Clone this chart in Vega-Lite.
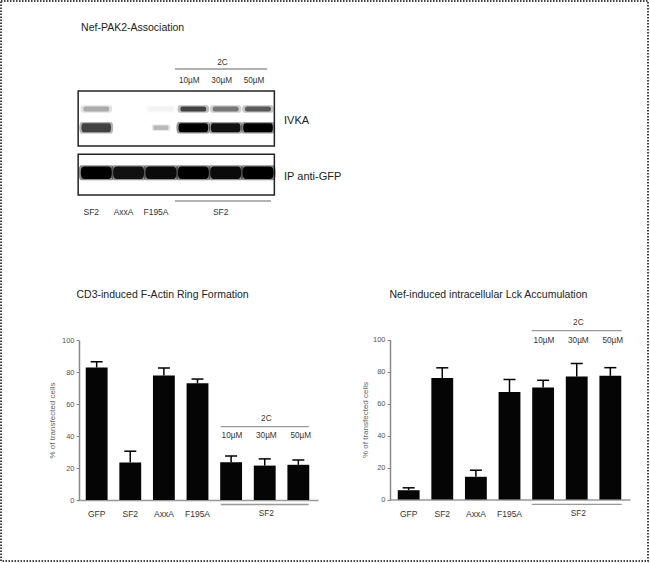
{
  "$schema": "https://vega.github.io/schema/vega-lite/v6.json",
  "width": 647,
  "height": 560,
  "autosize": "none",
  "padding": {"left": 1, "top": 1, "right": 2, "bottom": 2},
  "background": "white",
  "config": {
    "font": "Liberation Sans",
    "view": {"stroke": "#444", "strokeWidth": 2, "strokeDash": [1.5, 1.5]},
    "axis": {"grid": false}
  },
  "datasets": {
    "actin": [
      {"condition": "GFP", "mean": 82.8, "upper": 86.4},
      {"condition": "SF2", "mean": 23.5, "upper": 30.5},
      {"condition": "AxxA", "mean": 77.8, "upper": 82.5},
      {"condition": "F195A", "mean": 73.0, "upper": 75.6},
      {"condition": "10µM", "mean": 23.6, "upper": 27.5},
      {"condition": "30µM", "mean": 21.5, "upper": 25.7},
      {"condition": "50µM", "mean": 22.0, "upper": 25.0}
    ],
    "lck": [
      {"condition": "GFP", "mean": 5.8, "upper": 7.3},
      {"condition": "SF2", "mean": 76.0, "upper": 82.3},
      {"condition": "AxxA", "mean": 14.2, "upper": 18.3},
      {"condition": "F195A", "mean": 67.2, "upper": 75.0},
      {"condition": "10µM", "mean": 70.0, "upper": 74.5},
      {"condition": "30µM", "mean": 76.8, "upper": 85.0},
      {"condition": "50µM", "mean": 77.3, "upper": 82.4}
    ],
    "blot": [
      {"lane": 1, "sample": "SF2", "probe": "IVKA upper", "signal": 0.3},
      {"lane": 2, "sample": "AxxA", "probe": "IVKA upper", "signal": 0.0},
      {"lane": 3, "sample": "F195A", "probe": "IVKA upper", "signal": 0.04},
      {"lane": 4, "sample": "SF2 + 2C 10µM", "probe": "IVKA upper", "signal": 0.72},
      {"lane": 5, "sample": "SF2 + 2C 30µM", "probe": "IVKA upper", "signal": 0.5},
      {"lane": 6, "sample": "SF2 + 2C 50µM", "probe": "IVKA upper", "signal": 0.62},
      {"lane": 1, "sample": "SF2", "probe": "IVKA lower", "signal": 0.72},
      {"lane": 2, "sample": "AxxA", "probe": "IVKA lower", "signal": 0.0},
      {"lane": 3, "sample": "F195A", "probe": "IVKA lower", "signal": 0.25},
      {"lane": 4, "sample": "SF2 + 2C 10µM", "probe": "IVKA lower", "signal": 1.0},
      {"lane": 5, "sample": "SF2 + 2C 30µM", "probe": "IVKA lower", "signal": 0.95},
      {"lane": 6, "sample": "SF2 + 2C 50µM", "probe": "IVKA lower", "signal": 1.0},
      {"lane": 1, "sample": "SF2", "probe": "IP anti-GFP", "signal": 1.0},
      {"lane": 2, "sample": "AxxA", "probe": "IP anti-GFP", "signal": 0.95},
      {"lane": 3, "sample": "F195A", "probe": "IP anti-GFP", "signal": 0.97},
      {"lane": 4, "sample": "SF2 + 2C 10µM", "probe": "IP anti-GFP", "signal": 1.0},
      {"lane": 5, "sample": "SF2 + 2C 30µM", "probe": "IP anti-GFP", "signal": 0.97},
      {"lane": 6, "sample": "SF2 + 2C 50µM", "probe": "IP anti-GFP", "signal": 1.0}
    ]
  },
  "layer": [
    {
      "data": {"name": "actin"},
      "mark": {"type": "bar", "color": "#050505"},
      "encoding": {
        "x": {"field": "condition", "type": "nominal", "scale": {"domain": ["GFP", "SF2", "AxxA", "F195A", "10µM", "30µM", "50µM"], "range": [76, 317], "paddingInner": 0.35, "paddingOuter": 0.26},
          "axis": {"orient": "bottom", "offset": -61, "title": null, "ticks": false, "tickSize": 0, "domainColor": "#999", "domainWidth": 1.5, "labelFontSize": 8.5, "labelColor": "#333", "labelPadding": 9.5, "labelAngle": 0, "labelExpr": "(datum.label == '10µM' || datum.label == '30µM' || datum.label == '50µM') ? '' : datum.label"}},
        "y": {"field": "mean", "type": "quantitative", "scale": {"domain": [0, 100], "range": [499, 339], "nice": false, "zero": false},
          "axis": {"orient": "left", "offset": -78, "values": [0, 20, 40, 60, 80, 100], "title": "% of transfected cells", "titleFontSize": 8, "titleFontWeight": "normal", "titleColor": "#666", "titleX": -27, "titleBaseline": "middle", "labelFontSize": 7.5, "labelColor": "#555", "labelPadding": 2, "tickSize": 3, "tickColor": "#888", "domainColor": "#888", "domainWidth": 1.5}}
      }
    },
    {
      "data": {"name": "actin"},
      "mark": {"type": "rule", "color": "#000", "strokeWidth": 1.5},
      "encoding": {
        "x": {"field": "condition", "type": "nominal", "scale": {"domain": ["GFP", "SF2", "AxxA", "F195A", "10µM", "30µM", "50µM"], "range": [76, 317], "paddingInner": 0.35, "paddingOuter": 0.26}, "axis": null},
        "y": {"field": "mean", "type": "quantitative", "scale": {"domain": [0, 100], "range": [499, 339], "nice": false, "zero": false}, "axis": null},
        "y2": {"field": "upper"}
      }
    },
    {
      "data": {"name": "actin"},
      "mark": {"type": "tick", "color": "#000", "thickness": 1.5, "size": 12, "opacity": 1},
      "encoding": {
        "x": {"field": "condition", "type": "nominal", "scale": {"domain": ["GFP", "SF2", "AxxA", "F195A", "10µM", "30µM", "50µM"], "range": [76, 317], "paddingInner": 0.35, "paddingOuter": 0.26}, "axis": null},
        "y": {"field": "upper", "type": "quantitative", "scale": {"domain": [0, 100], "range": [499, 339], "nice": false, "zero": false}, "axis": null}
      }
    },
    {
      "data": {"name": "actin"},
      "transform": [{"filter": {"field": "condition", "oneOf": ["10µM", "30µM", "50µM"]}}],
      "mark": {"type": "text", "align": "center", "baseline": "middle", "fontSize": 8.2, "color": "#333"},
      "encoding": {
        "x": {"field": "condition", "type": "nominal", "scale": {"domain": ["GFP", "SF2", "AxxA", "F195A", "10µM", "30µM", "50µM"], "range": [76, 317], "paddingInner": 0.35, "paddingOuter": 0.26}, "axis": null},
        "y": {"datum": 39.8, "type": "quantitative", "scale": {"domain": [0, 100], "range": [499, 339], "nice": false, "zero": false}, "axis": null},
        "text": {"field": "condition"}
      }
    },
    {
      "data": {"values": [{"label": "2C", "level": 50.8}, {"label": "SF2", "level": -8.6}]},
      "mark": {"type": "text", "align": "center", "baseline": "middle", "fontSize": 8.3, "color": "#333"},
      "encoding": {
        "x": {"datum": "30µM", "type": "nominal", "scale": {"domain": ["GFP", "SF2", "AxxA", "F195A", "10µM", "30µM", "50µM"], "range": [76, 317], "paddingInner": 0.35, "paddingOuter": 0.26}, "axis": null},
        "y": {"field": "level", "type": "quantitative", "scale": {"domain": [0, 100], "range": [499, 339], "nice": false, "zero": false}, "axis": null},
        "text": {"field": "label"}
      }
    },
    {
      "data": {"values": [{"bracket": "2C", "level": 45.8}, {"bracket": "SF2", "level": -2.8}]},
      "mark": {"type": "tick", "color": "#999", "thickness": 1.3, "size": 88, "opacity": 1},
      "encoding": {
        "x": {"datum": "30µM", "type": "nominal", "scale": {"domain": ["GFP", "SF2", "AxxA", "F195A", "10µM", "30µM", "50µM"], "range": [76, 317], "paddingInner": 0.35, "paddingOuter": 0.26}, "axis": null},
        "y": {"field": "level", "type": "quantitative", "scale": {"domain": [0, 100], "range": [499, 339], "nice": false, "zero": false}, "axis": null}
      }
    },
    {
      "data": {"values": [{"label": "CD3-induced F-Actin Ring Formation"}]},
      "mark": {"type": "text", "align": "left", "baseline": "middle", "fontSize": 10.5, "color": "#222", "dx": -17.7},
      "encoding": {
        "x": {"datum": "GFP", "type": "nominal", "scale": {"domain": ["GFP", "SF2", "AxxA", "F195A", "10µM", "30µM", "50µM"], "range": [76, 317], "paddingInner": 0.35, "paddingOuter": 0.26}, "axis": null},
        "y": {"datum": 128, "type": "quantitative", "scale": {"domain": [0, 100], "range": [499, 339], "nice": false, "zero": false}, "axis": null},
        "text": {"field": "label"}
      }
    },
    {
      "data": {"name": "lck"},
      "mark": {"type": "bar", "color": "#050505"},
      "encoding": {
        "x": {"field": "condition", "type": "nominal", "scale": {"domain": ["GFP", "SF2", "AxxA", "F195A", "10µM", "30µM", "50µM"], "range": [388, 629], "paddingInner": 0.35, "paddingOuter": 0.26},
          "axis": {"orient": "bottom", "offset": -61.5, "title": null, "ticks": false, "tickSize": 0, "domainColor": "#999", "domainWidth": 1.5, "labelFontSize": 8.5, "labelColor": "#333", "labelPadding": 9.5, "labelAngle": 0, "labelExpr": "(datum.label == '10µM' || datum.label == '30µM' || datum.label == '50µM') ? '' : datum.label"}},
        "y": {"field": "mean", "type": "quantitative", "scale": {"domain": [0, 100], "range": [498.5, 338.5], "nice": false, "zero": false},
          "axis": {"orient": "left", "offset": -389, "values": [0, 20, 40, 60, 80, 100], "title": "% of transfected cells", "titleFontSize": 8, "titleFontWeight": "normal", "titleColor": "#666", "titleX": -25, "titleBaseline": "middle", "labelFontSize": 7.5, "labelColor": "#555", "labelPadding": 2, "tickSize": 3, "tickColor": "#888", "domainColor": "#888", "domainWidth": 1.5}}
      }
    },
    {
      "data": {"name": "lck"},
      "mark": {"type": "rule", "color": "#000", "strokeWidth": 1.5},
      "encoding": {
        "x": {"field": "condition", "type": "nominal", "scale": {"domain": ["GFP", "SF2", "AxxA", "F195A", "10µM", "30µM", "50µM"], "range": [388, 629], "paddingInner": 0.35, "paddingOuter": 0.26}, "axis": null},
        "y": {"field": "mean", "type": "quantitative", "scale": {"domain": [0, 100], "range": [498.5, 338.5], "nice": false, "zero": false}, "axis": null},
        "y2": {"field": "upper"}
      }
    },
    {
      "data": {"name": "lck"},
      "mark": {"type": "tick", "color": "#000", "thickness": 1.5, "size": 12, "opacity": 1},
      "encoding": {
        "x": {"field": "condition", "type": "nominal", "scale": {"domain": ["GFP", "SF2", "AxxA", "F195A", "10µM", "30µM", "50µM"], "range": [388, 629], "paddingInner": 0.35, "paddingOuter": 0.26}, "axis": null},
        "y": {"field": "upper", "type": "quantitative", "scale": {"domain": [0, 100], "range": [498.5, 338.5], "nice": false, "zero": false}, "axis": null}
      }
    },
    {
      "data": {"name": "lck"},
      "transform": [{"filter": {"field": "condition", "oneOf": ["10µM", "30µM", "50µM"]}}],
      "mark": {"type": "text", "align": "center", "baseline": "middle", "fontSize": 8.2, "color": "#333"},
      "encoding": {
        "x": {"field": "condition", "type": "nominal", "scale": {"domain": ["GFP", "SF2", "AxxA", "F195A", "10µM", "30µM", "50µM"], "range": [388, 629], "paddingInner": 0.35, "paddingOuter": 0.26}, "axis": null},
        "y": {"datum": 99, "type": "quantitative", "scale": {"domain": [0, 100], "range": [498.5, 338.5], "nice": false, "zero": false}, "axis": null},
        "text": {"field": "condition"}
      }
    },
    {
      "data": {"values": [{"label": "2C", "level": 110.3}, {"label": "SF2", "level": -9.2}]},
      "mark": {"type": "text", "align": "center", "baseline": "middle", "fontSize": 8.3, "color": "#333"},
      "encoding": {
        "x": {"datum": "30µM", "type": "nominal", "scale": {"domain": ["GFP", "SF2", "AxxA", "F195A", "10µM", "30µM", "50µM"], "range": [388, 629], "paddingInner": 0.35, "paddingOuter": 0.26}, "axis": null},
        "y": {"field": "level", "type": "quantitative", "scale": {"domain": [0, 100], "range": [498.5, 338.5], "nice": false, "zero": false}, "axis": null},
        "text": {"field": "label"}
      }
    },
    {
      "data": {"values": [{"bracket": "2C", "level": 105.6}, {"bracket": "SF2", "level": -3.1}]},
      "mark": {"type": "tick", "color": "#999", "thickness": 1.3, "size": 90, "opacity": 1},
      "encoding": {
        "x": {"datum": "30µM", "type": "nominal", "scale": {"domain": ["GFP", "SF2", "AxxA", "F195A", "10µM", "30µM", "50µM"], "range": [388, 629], "paddingInner": 0.35, "paddingOuter": 0.26}, "axis": null},
        "y": {"field": "level", "type": "quantitative", "scale": {"domain": [0, 100], "range": [498.5, 338.5], "nice": false, "zero": false}, "axis": null}
      }
    },
    {
      "data": {"values": [{"label": "Nef-induced intracellular Lck Accumulation"}]},
      "mark": {"type": "text", "align": "left", "baseline": "middle", "fontSize": 10.5, "color": "#222", "dx": -16.7},
      "encoding": {
        "x": {"datum": "GFP", "type": "nominal", "scale": {"domain": ["GFP", "SF2", "AxxA", "F195A", "10µM", "30µM", "50µM"], "range": [388, 629], "paddingInner": 0.35, "paddingOuter": 0.26}, "axis": null},
        "y": {"datum": 128, "type": "quantitative", "scale": {"domain": [0, 100], "range": [498.5, 338.5], "nice": false, "zero": false}, "axis": null},
        "text": {"field": "label"}
      }
    },
    {
      "data": {"values": [{"label": "Nef-PAK2-Association"}]},
      "mark": {"type": "text", "align": "left", "baseline": "middle", "fontSize": 10.5, "color": "#222"},
      "encoding": {
        "x": {"datum": 0.53, "type": "quantitative", "scale": {"domain": [0.5, 6.5], "range": [79.1, 273.2], "nice": false, "zero": false}, "axis": null},
        "y": {"datum": 27, "type": "quantitative", "scale": {"domain": [0, 220], "range": [0, 220], "nice": false, "zero": false}, "axis": null},
        "text": {"field": "label"}
      }
    },
    {
      "data": {"values": [{"label": "2C"}]},
      "mark": {"type": "text", "align": "center", "baseline": "middle", "fontSize": 8.2, "color": "#333"},
      "encoding": {
        "x": {"datum": 4.9, "type": "quantitative", "scale": {"domain": [0.5, 6.5], "range": [79.1, 273.2], "nice": false, "zero": false}, "axis": null},
        "y": {"datum": 61.7, "type": "quantitative", "scale": {"domain": [0, 220], "range": [0, 220], "nice": false, "zero": false}, "axis": null},
        "text": {"field": "label"}
      }
    },
    {
      "data": {"values": [{"bracket": "2C", "from": 3.43, "to": 6.28, "level": 68}, {"bracket": "SF2", "from": 3.43, "to": 6.4, "level": 200}]},
      "mark": {"type": "rule", "color": "#999", "strokeWidth": 1.3},
      "encoding": {
        "x": {"field": "from", "type": "quantitative", "scale": {"domain": [0.5, 6.5], "range": [79.1, 273.2], "nice": false, "zero": false}, "axis": null},
        "x2": {"field": "to"},
        "y": {"field": "level", "type": "quantitative", "scale": {"domain": [0, 220], "range": [0, 220], "nice": false, "zero": false}, "axis": null}
      }
    },
    {
      "data": {"values": [{"lane": 4, "label": "10µM"}, {"lane": 5, "label": "30µM"}, {"lane": 6, "label": "50µM"}]},
      "mark": {"type": "text", "align": "center", "baseline": "middle", "fontSize": 8.2, "color": "#333", "dx": -4},
      "encoding": {
        "x": {"field": "lane", "type": "quantitative", "scale": {"domain": [0.5, 6.5], "range": [79.1, 273.2], "nice": false, "zero": false}, "axis": null},
        "y": {"datum": 80, "type": "quantitative", "scale": {"domain": [0, 220], "range": [0, 220], "nice": false, "zero": false}, "axis": null},
        "text": {"field": "label"}
      }
    },
    {
      "data": {"values": [{"blot": "IVKA", "top": 90, "bottom": 145}, {"blot": "IP anti-GFP", "top": 153.3, "bottom": 194}]},
      "mark": {"type": "rect", "fill": "white", "stroke": "#222", "strokeWidth": 1.5},
      "encoding": {
        "x": {"datum": 0.44, "type": "quantitative", "scale": {"domain": [0.5, 6.5], "range": [79.1, 273.2], "nice": false, "zero": false}, "axis": null},
        "x2": {"datum": 6.505},
        "y": {"field": "top", "type": "quantitative", "scale": {"domain": [0, 220], "range": [0, 220], "nice": false, "zero": false}, "axis": null},
        "y2": {"field": "bottom"}
      }
    },
    {
      "data": {"name": "blot"},
      "transform": [{"filter": "datum.probe == 'IVKA upper'"}],
      "mark": {"type": "point", "filled": true, "opacity": 0.35, "strokeWidth": 0, "size": 1000, "shape": "M-0.85,-0.24 L0.85,-0.24 Q1,-0.24 1,0 Q1,0.24 0.85,0.24 L-0.85,0.24 Q-1,0.24 -1,0 Q-1,-0.24 -0.85,-0.24 Z"},
      "encoding": {
        "x": {"field": "lane", "type": "quantitative", "scale": {"domain": [0.5, 6.5], "range": [79.1, 273.2], "nice": false, "zero": false}, "axis": null},
        "y": {"datum": 108, "type": "quantitative", "scale": {"domain": [0, 220], "range": [0, 220], "nice": false, "zero": false}, "axis": null},
        "fill": {"field": "signal", "type": "quantitative", "scale": {"domain": [0, 1], "range": ["#ffffff", "#000000"]}, "legend": null}
      }
    },
    {
      "data": {"name": "blot"},
      "transform": [{"filter": "datum.probe == 'IVKA upper'"}],
      "mark": {"type": "point", "filled": true, "opacity": 1, "strokeWidth": 0, "size": 676, "shape": "M-0.85,-0.2 L0.85,-0.2 Q1,-0.2 1,0 Q1,0.2 0.85,0.2 L-0.85,0.2 Q-1,0.2 -1,0 Q-1,-0.2 -0.85,-0.2 Z"},
      "encoding": {
        "x": {"field": "lane", "type": "quantitative", "scale": {"domain": [0.5, 6.5], "range": [79.1, 273.2], "nice": false, "zero": false}, "axis": null},
        "y": {"datum": 108, "type": "quantitative", "scale": {"domain": [0, 220], "range": [0, 220], "nice": false, "zero": false}, "axis": null},
        "fill": {"field": "signal", "type": "quantitative", "scale": {"domain": [0, 1], "range": ["#ffffff", "#000000"]}, "legend": null}
      }
    },
    {
      "data": {"name": "blot"},
      "transform": [{"filter": "datum.probe == 'IVKA lower'"}],
      "mark": {"type": "point", "filled": true, "opacity": 0.4, "strokeWidth": 0, "shape": "M-0.85,-0.34 L0.85,-0.34 Q1,-0.34 1,0 Q1,0.34 0.85,0.34 L-0.85,0.34 Q-1,0.34 -1,0 Q-1,-0.34 -0.85,-0.34 Z"},
      "encoding": {
        "x": {"field": "lane", "type": "quantitative", "scale": {"domain": [0.5, 6.5], "range": [79.1, 273.2], "nice": false, "zero": false}, "axis": null},
        "y": {"datum": 126.7, "type": "quantitative", "scale": {"domain": [0, 220], "range": [0, 220], "nice": false, "zero": false}, "axis": null},
        "fill": {"field": "signal", "type": "quantitative", "scale": {"domain": [0, 1], "range": ["#ffffff", "#000000"]}, "legend": null},
        "size": {"field": "signal", "type": "quantitative", "scale": {"domain": [0.2, 0.7], "range": [250, 1150], "clamp": true}, "legend": null}
      }
    },
    {
      "data": {"name": "blot"},
      "transform": [{"filter": "datum.probe == 'IVKA lower'"}],
      "mark": {"type": "point", "filled": true, "opacity": 1, "strokeWidth": 0, "shape": "M-0.85,-0.3 L0.85,-0.3 Q1,-0.3 1,0 Q1,0.3 0.85,0.3 L-0.85,0.3 Q-1,0.3 -1,0 Q-1,-0.3 -0.85,-0.3 Z"},
      "encoding": {
        "x": {"field": "lane", "type": "quantitative", "scale": {"domain": [0.5, 6.5], "range": [79.1, 273.2], "nice": false, "zero": false}, "axis": null},
        "y": {"datum": 126.7, "type": "quantitative", "scale": {"domain": [0, 220], "range": [0, 220], "nice": false, "zero": false}, "axis": null},
        "fill": {"field": "signal", "type": "quantitative", "scale": {"domain": [0, 1], "range": ["#ffffff", "#000000"]}, "legend": null},
        "size": {"field": "signal", "type": "quantitative", "scale": {"domain": [0.2, 0.7], "range": [150, 880], "clamp": true}, "legend": null}
      }
    },
    {
      "data": {"name": "blot"},
      "transform": [{"filter": "datum.probe == 'IP anti-GFP'"}],
      "mark": {"type": "point", "filled": true, "opacity": 0.45, "strokeWidth": 0, "size": 1250, "shape": "M-0.85,-0.42 L0.85,-0.42 Q1,-0.42 1,0 Q1,0.42 0.85,0.42 L-0.85,0.42 Q-1,0.42 -1,0 Q-1,-0.42 -0.85,-0.42 Z"},
      "encoding": {
        "x": {"field": "lane", "type": "quantitative", "scale": {"domain": [0.5, 6.5], "range": [79.1, 273.2], "nice": false, "zero": false}, "axis": null},
        "y": {"datum": 171.7, "type": "quantitative", "scale": {"domain": [0, 220], "range": [0, 220], "nice": false, "zero": false}, "axis": null},
        "fill": {"field": "signal", "type": "quantitative", "scale": {"domain": [0, 1], "range": ["#ffffff", "#000000"]}, "legend": null}
      }
    },
    {
      "data": {"name": "blot"},
      "transform": [{"filter": "datum.probe == 'IP anti-GFP'"}],
      "mark": {"type": "point", "filled": true, "opacity": 1, "strokeWidth": 0, "size": 960, "shape": "M-0.8,-0.4 L0.8,-0.4 Q1,-0.4 1,0 Q1,0.4 0.8,0.4 L-0.8,0.4 Q-1,0.4 -1,0 Q-1,-0.4 -0.8,-0.4 Z"},
      "encoding": {
        "x": {"field": "lane", "type": "quantitative", "scale": {"domain": [0.5, 6.5], "range": [79.1, 273.2], "nice": false, "zero": false}, "axis": null},
        "y": {"datum": 171.7, "type": "quantitative", "scale": {"domain": [0, 220], "range": [0, 220], "nice": false, "zero": false}, "axis": null},
        "fill": {"field": "signal", "type": "quantitative", "scale": {"domain": [0, 1], "range": ["#ffffff", "#000000"]}, "legend": null}
      }
    },
    {
      "data": {"values": [{"label": "IVKA", "row": 120}, {"label": "IP anti-GFP", "row": 176}]},
      "mark": {"type": "text", "align": "left", "baseline": "middle", "fontSize": 11, "color": "#222"},
      "encoding": {
        "x": {"datum": 6.805, "type": "quantitative", "scale": {"domain": [0.5, 6.5], "range": [79.1, 273.2], "nice": false, "zero": false}, "axis": null},
        "y": {"field": "row", "type": "quantitative", "scale": {"domain": [0, 220], "range": [0, 220], "nice": false, "zero": false}, "axis": null},
        "text": {"field": "label"}
      }
    },
    {
      "data": {"values": [{"lane": 1, "label": "SF2"}, {"lane": 2, "label": "AxxA"}, {"lane": 3, "label": "F195A"}, {"lane": 5, "label": "SF2"}]},
      "mark": {"type": "text", "align": "center", "baseline": "middle", "fontSize": 8.5, "color": "#333", "dx": -5},
      "encoding": {
        "x": {"field": "lane", "type": "quantitative", "scale": {"domain": [0.5, 6.5], "range": [79.1, 273.2], "nice": false, "zero": false}, "axis": null},
        "y": {"datum": 211, "type": "quantitative", "scale": {"domain": [0, 220], "range": [0, 220], "nice": false, "zero": false}, "axis": null},
        "text": {"field": "label"}
      }
    }
  ],
  "resolve": {"scale": {"x": "independent", "y": "independent", "fill": "independent", "size": "independent"}}
}
